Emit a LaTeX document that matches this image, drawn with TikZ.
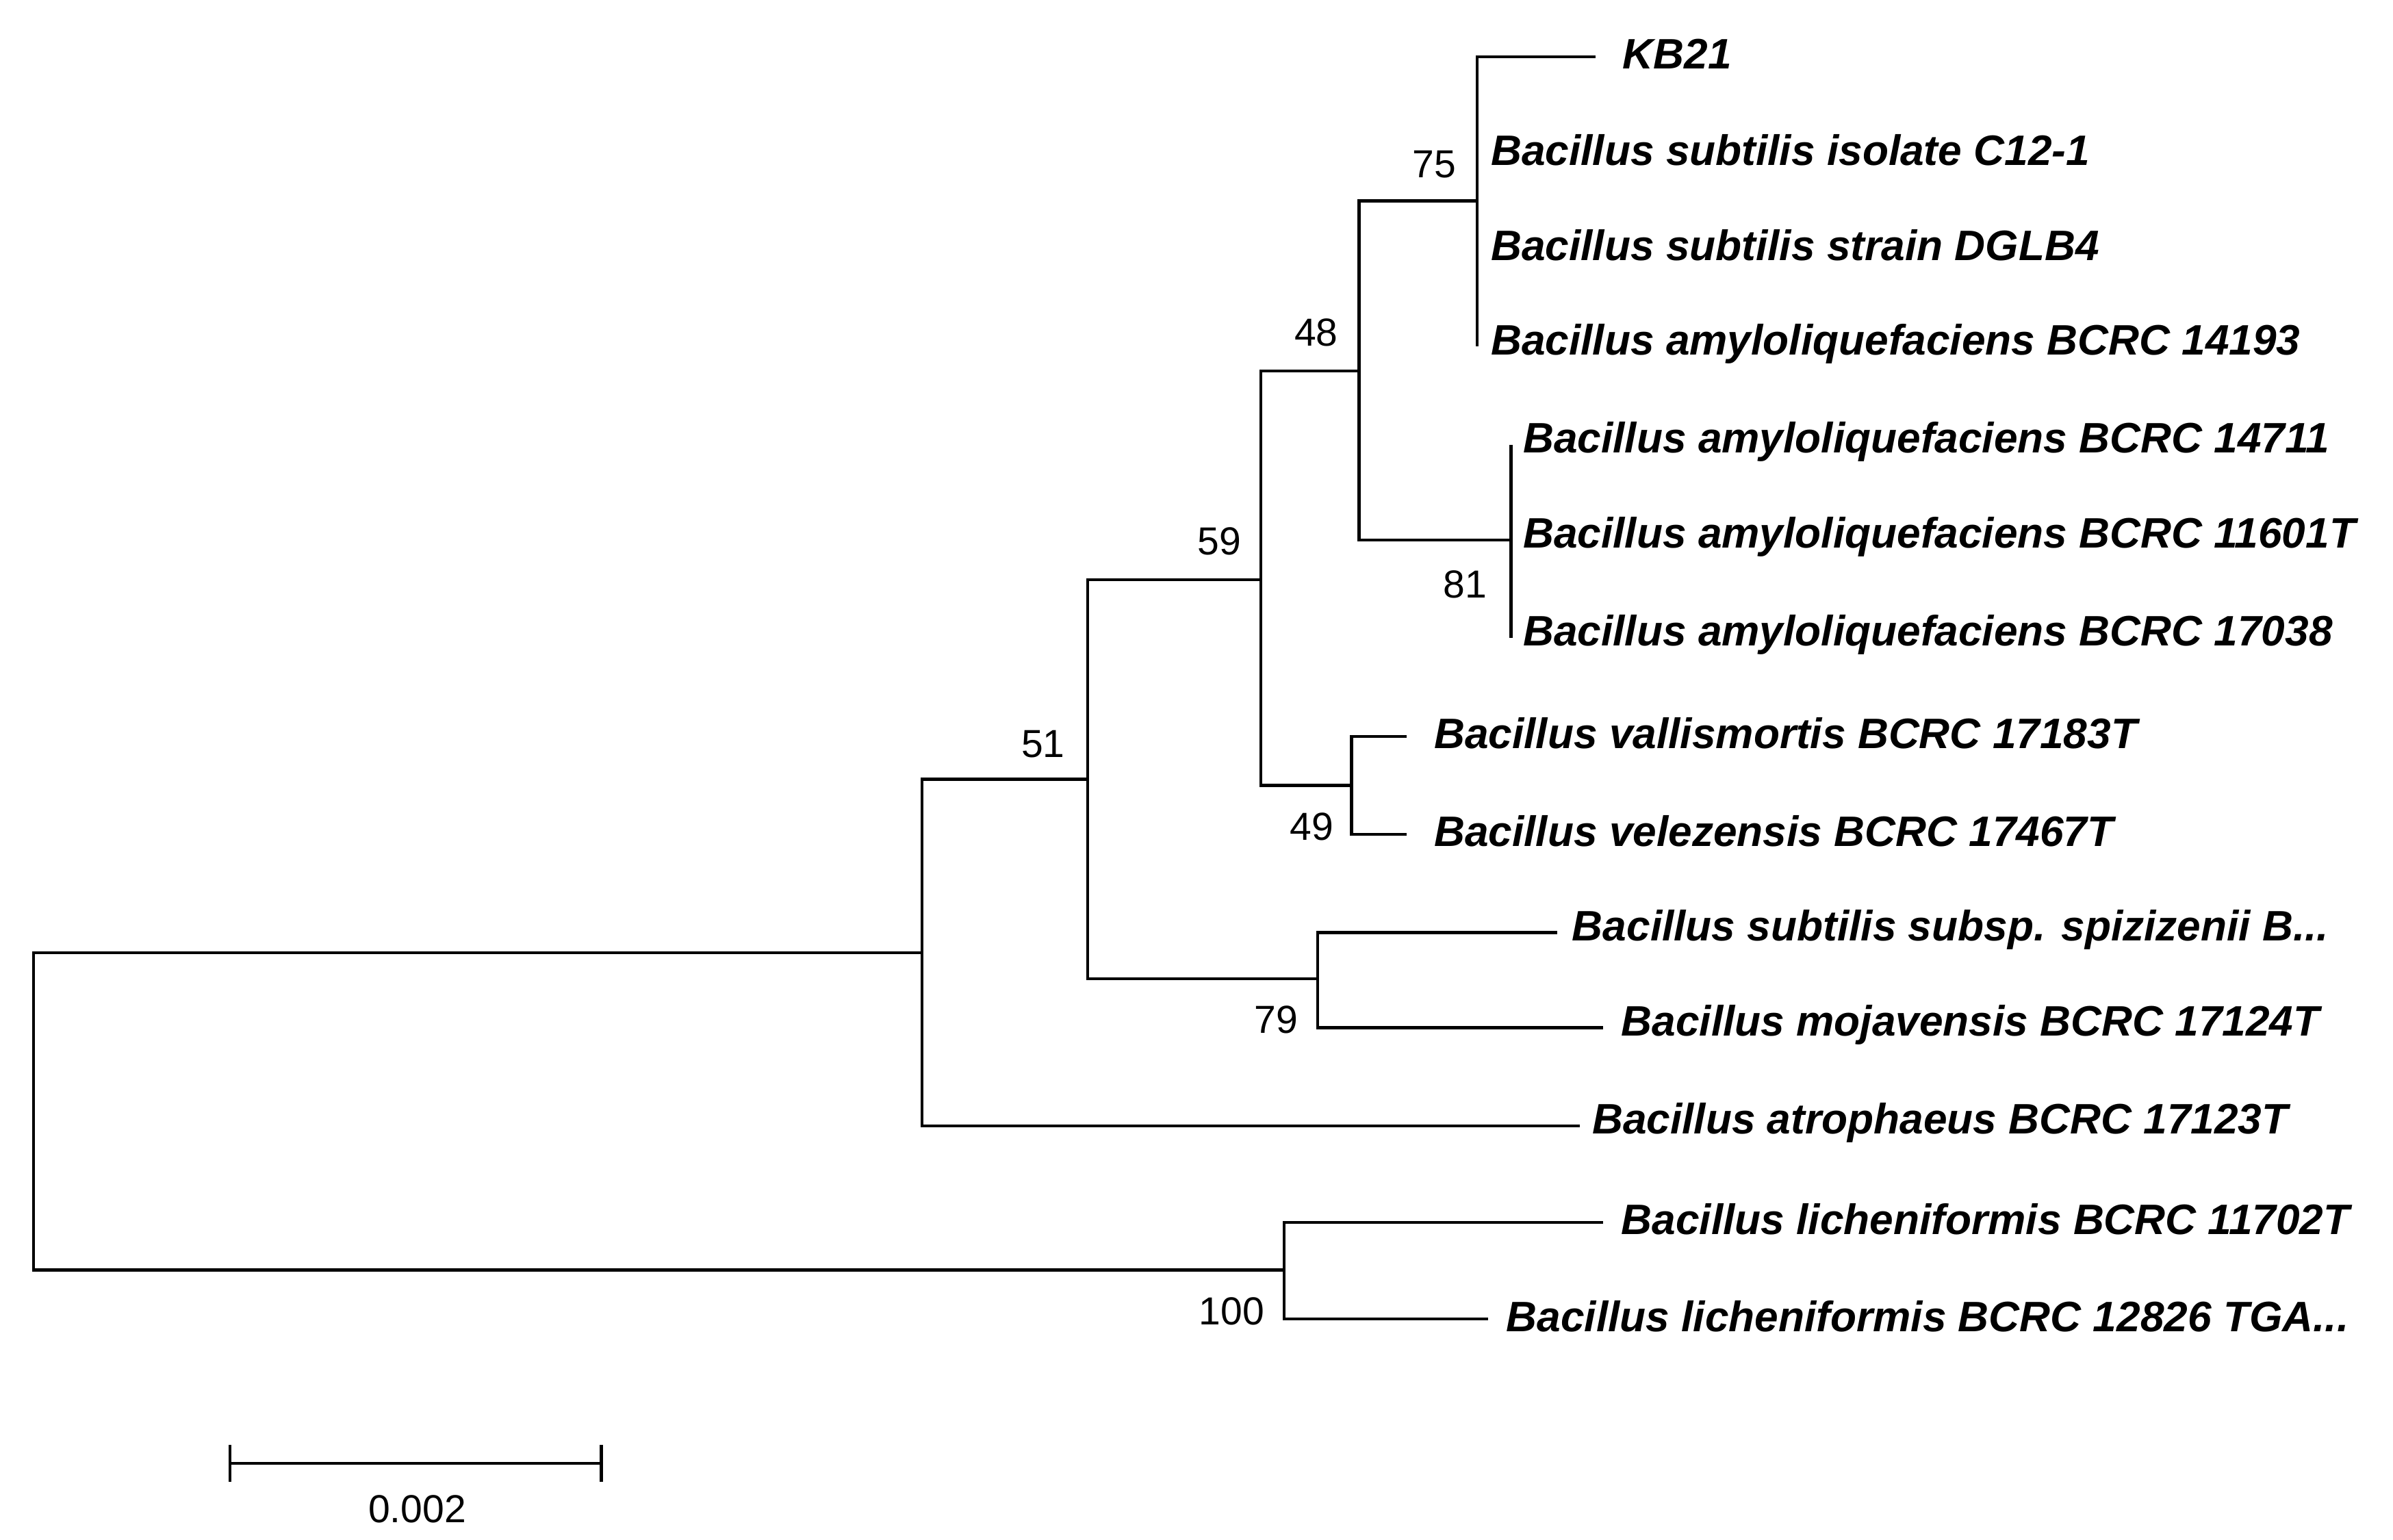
\documentclass[tikz,border=0pt]{standalone}
\usepackage{fontspec}
\setmainfont{Liberation Sans}
\begin{document}
\begin{tikzpicture}[x=0.02cm,y=-0.02cm,line width=1.1pt,
  leaf/.style={anchor=west,font=\fontsize{15.8}{18}\selectfont\bfseries\itshape,inner sep=0pt},
  bs/.style={font=\fontsize{14.5}{16}\selectfont,inner sep=0pt}]
\useasboundingbox (0,0) rectangle (1560,1004);
% leaves
\node[leaf] (l1) at (1057,35) {KB21};
\node[leaf] (l2) at (971,98) {Bacillus subtilis isolate C12-1};
\node[leaf] (l3) at (971,160) {Bacillus subtilis strain DGLB4};
\node[leaf] (l4) at (971,224) {Bacillus amyloliquefaciens BCRC 14193};
\node[leaf] (l5) at (992,288) {Bacillus amyloliquefaciens BCRC 14711};
\node[leaf] (l6) at (992,350) {Bacillus amyloliquefaciens BCRC 11601T};
\node[leaf] (l7) at (992,414) {Bacillus amyloliquefaciens BCRC 17038};
\node[leaf] (l8) at (934,478) {Bacillus vallismortis BCRC 17183T};
\node[leaf] (l9) at (934,542) {Bacillus velezensis BCRC 17467T};
\node[leaf] (l10) at (1024,606) {Bacillus subtilis subsp. spizizenii B...};
\node[leaf] (l11) at (1056,668) {Bacillus mojavensis BCRC 17124T};
\node[leaf] (l12) at (1037,732) {Bacillus atrophaeus BCRC 17123T};
\node[leaf] (l13) at (1056,795) {Bacillus licheniformis BCRC 11702T};
\node[leaf] (l14) at (981,858) {Bacillus licheniformis BCRC 12826 TGA...};
% tree
\draw (1040,37) -- (963,37) -- (963,226);
\draw (963,131) -- (886,131) -- (886,352) -- (985,352);
\draw (985,290) -- (985,416);
\draw (886,242) -- (822,242) -- (822,512) -- (881,512);
\draw (917,480) -- (881,480) -- (881,544) -- (917,544);
\draw (822,378) -- (709,378) -- (709,638) -- (859,638);
\draw (1015,608) -- (859,608) -- (859,670) -- (1045,670);
\draw (709,508) -- (601,508) -- (601,734) -- (1030,734);
\draw (601,621) -- (22,621) -- (22,828) -- (837,828);
\draw (1045,797) -- (837,797) -- (837,860) -- (970,860);
% bootstrap
\node[bs] (b75) at (935,107) {75};
\node[bs] (b81) at (955,381) {81};
\node[bs] (b48) at (858,217) {48};
\node[bs] (b59) at (795,353) {59};
\node[bs] (b49) at (855,539) {49};
\node[bs] (b51) at (680,485) {51};
\node[bs] (b79) at (832,665) {79};
\node[bs] (b100) at (803,855) {100};
% scale bar
\draw (150,954) -- (392,954);
\draw (150,942) -- (150,966);
\draw (392,942) -- (392,966);
\node[bs] (sc) at (272,984) {0.002};
\end{tikzpicture}
\end{document}
